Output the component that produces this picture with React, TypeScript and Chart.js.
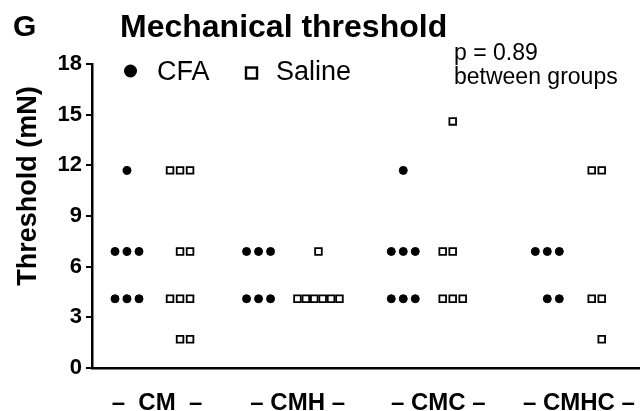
import React, { useEffect, useRef } from 'react';
import { Chart, registerables } from 'chart.js';

Chart.register(...registerables);

// ---------- data ----------
const GROUPS = ['CM', 'CMH', 'CMC', 'CMHC'];
const GROUP_LABELS = ['–  CM  –', '– CMH –', '– CMC –', '– CMHC –'];
const Y_TICKS = [0, 3, 6, 9, 12, 15, 18];

// Mechanical threshold (mN), one value per animal
const CFA_CM = [11.7, 6.9, 6.9, 6.9, 4.1, 4.1, 4.1];
const CFA_CMH = [6.9, 6.9, 6.9, 4.1, 4.1, 4.1];
const CFA_CMC = [11.7, 6.9, 6.9, 6.9, 4.1, 4.1, 4.1];
const CFA_CMHC = [6.9, 6.9, 6.9, 4.1, 4.1];

const SALINE_CM = [11.7, 11.7, 11.7, 6.9, 6.9, 4.1, 4.1, 4.1, 1.7, 1.7];
const SALINE_CMH = [6.9, 4.1, 4.1, 4.1, 4.1, 4.1, 4.1];
const SALINE_CMC = [14.6, 6.9, 6.9, 4.1, 4.1, 4.1];
const SALINE_CMHC = [11.7, 11.7, 4.1, 4.1, 1.7];

const CFA_VALUES = [CFA_CM, CFA_CMH, CFA_CMC, CFA_CMHC];
const SALINE_VALUES = [SALINE_CM, SALINE_CMH, SALINE_CMC, SALINE_CMHC];

// ---------- layout (axis units: group index) ----------
const X_MIN = -0.462;
const X_MAX = 3.434;
const CFA_SHIFT = [-0.213, -0.278, -0.249, -0.225];
const SALINE_SHIFT = [0.164, 0.148, 0.1025, 0.162];
const CFA_SIDE = [1, 1, 1, 1];
const SALINE_SIDE = [1, 1, -1, -1];
const CFA_SPACING = 0.0853;
const SALINE_SPACING = 0.0711;
const MAX_SPREAD = 0.2986;

const FONT = '"Liberation Sans", Arial, Helvetica, sans-serif';

function spread(values: number[], center: number, spacing: number, side: number) {
  const rows = new Map<number, number>();
  values.forEach((v) => rows.set(v, (rows.get(v) || 0) + 1));
  const pts: { x: number; y: number }[] = [];
  rows.forEach((n, v) => {
    let s = spacing;
    let compressed = false;
    if (n > 1 && (n - 1) * spacing > MAX_SPREAD) {
      s = MAX_SPREAD / (n - 1);
      compressed = true;
    }
    const shift = n % 2 === 0 && !compressed ? (side * s) / 2 : 0;
    for (let k = 0; k < n; k++) {
      pts.push({ x: center + (k - (n - 1) / 2) * s + shift, y: v });
    }
  });
  return pts;
}

const textPlugin = {
  id: 'texts',
  afterDraw(chart: any) {
    const ctx: CanvasRenderingContext2D = chart.ctx;
    ctx.save();
    ctx.fillStyle = '#000';
    ctx.strokeStyle = '#000';
    ctx.textAlign = 'left';
    ctx.textBaseline = 'alphabetic';

    ctx.font = `bold 30px ${FONT}`;
    ctx.fillText('G', 13, 36);
    ctx.font = `bold 32px ${FONT}`;
    ctx.fillText('Mechanical threshold', 120, 37);

    // legend
    ctx.beginPath();
    ctx.arc(130.5, 71, 6.5, 0, Math.PI * 2);
    ctx.fill();
    ctx.font = `27px ${FONT}`;
    ctx.fillText('CFA', 157, 80);
    ctx.lineWidth = 2.4;
    ctx.strokeRect(246, 67.5, 11, 11);
    ctx.fillText('Saline', 276, 80);

    ctx.font = `23px ${FONT}`;
    ctx.fillText('p = 0.89', 454, 60);
    ctx.fillText('between groups', 454, 84);

    // y title
    ctx.translate(36, 186);
    ctx.rotate(-Math.PI / 2);
    ctx.textAlign = 'center';
    ctx.font = `bold 27px ${FONT}`;
    ctx.fillText('Threshold (mN)', 0, 0);
    ctx.restore();
  },
};

export default function App() {
  const ref = useRef<HTMLCanvasElement | null>(null);

  useEffect(() => {
    if (!ref.current) return;
    const cfaPts = CFA_VALUES.flatMap((vals, i) =>
      spread(vals, i + CFA_SHIFT[i], CFA_SPACING, CFA_SIDE[i])
    );
    const salPts = SALINE_VALUES.flatMap((vals, i) =>
      spread(vals, i + SALINE_SHIFT[i], SALINE_SPACING, SALINE_SIDE[i])
    );

    const chart = new Chart(ref.current, {
      type: 'scatter',
      data: {
        datasets: [
          {
            label: 'CFA',
            data: cfaPts,
            pointStyle: 'circle',
            pointRadius: 4,
            pointHoverRadius: 4,
            backgroundColor: '#000',
            borderColor: '#000',
            borderWidth: 1,
          },
          {
            label: 'Saline',
            data: salPts,
            pointStyle: 'rect',
            pointRadius: 4.7,
            pointHoverRadius: 4.7,
            backgroundColor: '#fff',
            borderColor: '#000',
            borderWidth: 1.8,
          },
        ],
      },
      options: {
        animation: false,
        responsive: false,
        events: [],
        layout: { autoPadding: false, padding: { top: 64, left: 0, right: 0, bottom: 0 } },
        plugins: {
          legend: { display: false },
          tooltip: { enabled: false },
          title: { display: false },
        },
        scales: {
          x: {
            type: 'linear',
            min: X_MIN,
            max: X_MAX,
            afterBuildTicks: (s: any) => {
              s.ticks = GROUPS.map((_, i) => ({ value: i }));
            },
            afterFit: (s: any) => {
              s.height = 43;
              s.paddingLeft = 0;
              s.paddingRight = 0;
            },
            grid: { display: false },
            border: { display: true, color: '#000', width: 2.5 },
            ticks: {
              autoSkip: false,
              maxRotation: 0,
              minRotation: 0,
              padding: 0,
              color: '#000',
              font: { family: FONT, size: 24, weight: 'bold', lineHeight: 2.25 },
              callback: (_v: any, i: number) => GROUP_LABELS[i],
            },
          },
          y: {
            type: 'linear',
            min: 0,
            max: 18,
            afterBuildTicks: (s: any) => {
              s.ticks = Y_TICKS.map((v) => ({ value: v }));
            },
            afterFit: (s: any) => {
              s.width = 92;
            },
            grid: {
              display: true,
              drawOnChartArea: false,
              drawTicks: true,
              tickLength: 6,
              color: '#000',
              lineWidth: 2,
            },
            border: { display: true, color: '#000', width: 2.5 },
            ticks: {
              padding: 4,
              color: '#000',
              font: { family: FONT, size: 22, weight: 'bold' },
            },
          },
        },
      },
      plugins: [textPlugin],
    } as any);
    return () => chart.destroy();
  }, []);

  return (
    <div style={{ position: 'absolute', left: 0, top: 0, width: 640, height: 411, background: '#fff' }}>
      <canvas ref={ref} width={640} height={411} style={{ width: 640, height: 411, display: 'block' }} />
    </div>
  );
}
